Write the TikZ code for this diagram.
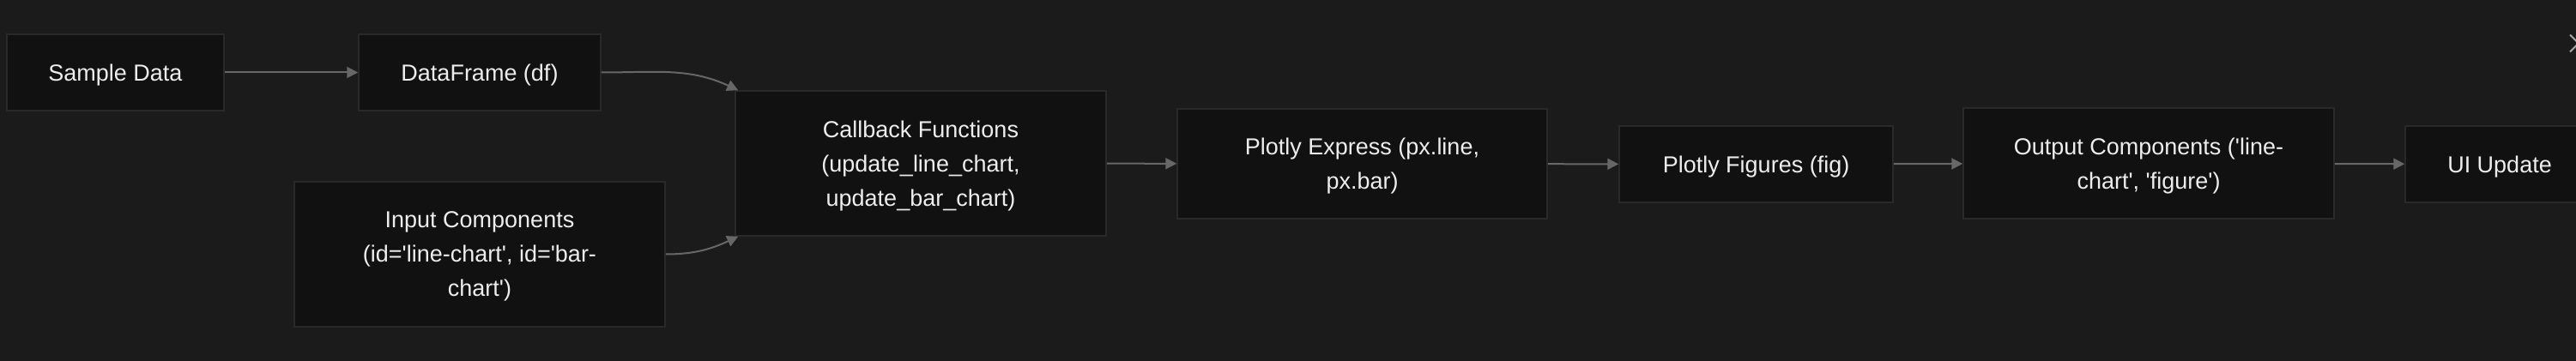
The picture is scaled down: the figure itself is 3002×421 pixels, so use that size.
\documentclass[tikz,border=0pt]{standalone}
\usepackage{fontspec}
\setmainfont{Liberation Sans}
\usetikzlibrary{arrows.meta}
\definecolor{canvas}{HTML}{1B1B1B}
\definecolor{boxfill}{HTML}{111111}
\definecolor{boxline}{HTML}{292929}
\definecolor{boxtext}{HTML}{EDEDED}
\definecolor{flowline}{HTML}{676767}
\definecolor{closemark}{HTML}{A8A8A8}
\newcommand{\squote}{\textquotesingle}
\begin{document}
\begin{tikzpicture}[x=0.5pt, y=-0.5pt,
    box/.style={rectangle, draw=boxline, line width=0.75pt, fill=boxfill, text=boxtext,
        inner sep=0pt, align=center, font=\fontsize{13.5}{20}\selectfont, text depth=-1pt,
        minimum height=44.5pt},
    flow/.style={draw=flowline, line width=1pt, -{Triangle[length=6.5pt, width=6.5pt]}}]
    \fill[canvas] (0,0) rectangle (3002,421);
    \clip (0,0) rectangle (3002,421);

    \node[box, minimum width=126.5pt] (sd) at (134.5,84.5) {Sample Data};
    \node[box, minimum width=141pt] (df) at (559,84.5) {DataFrame (df)};
    \node[box, minimum width=216pt, minimum height=84.5pt] (ic) at (559,296.5)
        {Input Components\\(id=\squote line-chart\squote, id=\squote bar-\\chart\squote)};
    \node[box, minimum width=216pt, minimum height=84.5pt] (cb) at (1073,190.5)
        {Callback Functions\\(update\_line\_chart,\\update\_bar\_chart)};
    \node[box, minimum width=215.5pt, minimum height=64pt] (pe) at (1587.5,191)
        {Plotly Express (px.line,\\px.bar)};
    \node[box, minimum width=159.5pt] (pf) at (2046.5,191.5) {Plotly Figures (fig)};
    \node[box, minimum width=216pt, minimum height=64.5pt] (oc) at (2504,190.5)
        {Output Components (\squote line-\\chart\squote, \squote figure\squote)};
    \node[box, minimum width=110pt] (ui) at (2913,191.5) {UI Update};

    \draw[flow] (sd) -- (df);
    \draw[flow] (df.east) to[out=0, in=155] ([xshift=2pt]cb.north west);
    \draw[flow] (ic.east) to[out=0, in=205] ([xshift=2pt]cb.south west);
    \draw[flow] (cb) -- (pe);
    \draw[flow] (pe) -- (pf);
    \draw[flow] (pf) -- (oc);
    \draw[flow] (oc) -- (ui);

    % close mark, cut by the right edge
    \draw[closemark, line width=1pt] (2995,40.5) -- (3015,60.5) (2995,60.5) -- (3015,40.5);
\end{tikzpicture}
\end{document}
